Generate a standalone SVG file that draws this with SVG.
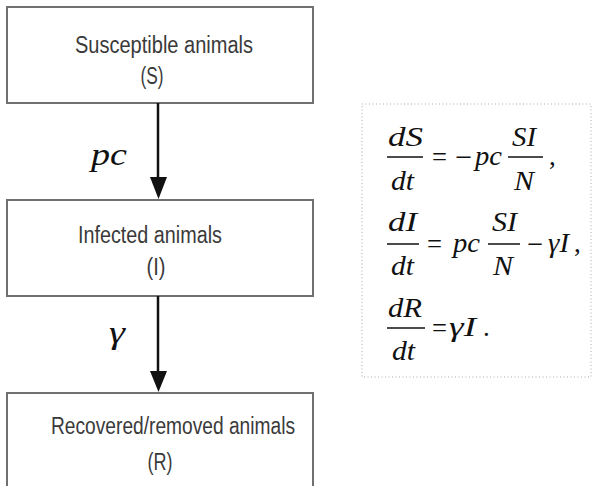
<svg xmlns="http://www.w3.org/2000/svg" width="593" height="486" viewBox="0 0 593 486">
<defs>
<style>
.box{fill:#fff;stroke:#707070;stroke-width:2}
.lbl{font-family:"Liberation Sans",Arial,sans-serif;font-size:23px;fill:#3a3a3a;text-anchor:middle}
.math{font-family:"Liberation Serif","Times New Roman",serif;font-style:italic;font-size:27px;fill:#111}
.op{font-family:"Liberation Serif","Times New Roman",serif;font-size:27px;fill:#111}
.bar{stroke:#111;stroke-width:1.5}
.conn{stroke:#111;stroke-width:2.5;fill:none}
.rate{font-family:"Liberation Serif","Times New Roman",serif;font-style:italic;font-size:32px;fill:#111}
</style>
</defs>
<rect width="593" height="486" fill="#fff"/>
<g id="node-S">
<rect class="box" x="7" y="7" width="306" height="96"/>
<text class="lbl" x="164" y="53" textLength="178" lengthAdjust="spacingAndGlyphs">Susceptible animals</text>
<text class="lbl" x="152" y="84" textLength="23" lengthAdjust="spacingAndGlyphs">(S)</text>
</g>
<g id="node-I">
<rect class="box" x="7" y="200" width="306" height="96"/>
<text class="lbl" x="150" y="243" textLength="144" lengthAdjust="spacingAndGlyphs">Infected animals</text>
<text class="lbl" x="156" y="275" textLength="19" lengthAdjust="spacingAndGlyphs">(I)</text>
</g>
<g id="node-R">
<rect class="box" x="7" y="393" width="306" height="110"/>
<text class="lbl" x="173" y="434" textLength="244" lengthAdjust="spacingAndGlyphs">Recovered/removed animals</text>
<text class="lbl" x="160" y="470" textLength="25" lengthAdjust="spacingAndGlyphs">(R)</text>
</g>
<g id="connectors">
<line class="conn" x1="158" y1="103" x2="158" y2="180"/>
<path d="M150,177 L167,177 L158.5,199 Z" fill="#111"/>
<line class="conn" x1="158" y1="296" x2="158" y2="374"/>
<path d="M150,371 L167,371 L158.5,392 Z" fill="#111"/>
<text class="rate" x="91" y="165" textLength="36" lengthAdjust="spacingAndGlyphs">pc</text>
<text class="rate" x="109" y="343" textLength="16" lengthAdjust="spacingAndGlyphs">γ</text>
</g>
<g id="equations">
<rect x="362" y="104" width="229" height="273" fill="none" stroke="#aaa" stroke-width="1" stroke-dasharray="1 2.5"/>
<text class="math" x="388" y="146" textLength="35" lengthAdjust="spacingAndGlyphs">dS</text>
<line class="bar" x1="387" y1="157" x2="423" y2="157"/>
<text class="math" x="391" y="190" textLength="23" lengthAdjust="spacingAndGlyphs">dt</text>
<text class="op" x="432" y="166" textLength="15" lengthAdjust="spacingAndGlyphs">=</text>
<text class="op" x="455" y="166" textLength="17" lengthAdjust="spacingAndGlyphs">−</text>
<text class="math" x="475" y="165" textLength="27" lengthAdjust="spacingAndGlyphs">pc</text>
<text class="math" x="512" y="146" textLength="24" lengthAdjust="spacingAndGlyphs">SI</text>
<line class="bar" x1="508" y1="157" x2="543" y2="157"/>
<text class="math" x="514" y="190" textLength="20" lengthAdjust="spacingAndGlyphs">N</text>
<text class="op" x="549" y="165">,</text>

<text class="math" x="388" y="231" textLength="29" lengthAdjust="spacingAndGlyphs">dI</text>
<line class="bar" x1="387" y1="244" x2="419" y2="244"/>
<text class="math" x="391" y="275" textLength="23" lengthAdjust="spacingAndGlyphs">dt</text>
<text class="op" x="427" y="253" textLength="15" lengthAdjust="spacingAndGlyphs">=</text>
<text class="math" x="453" y="252" textLength="27" lengthAdjust="spacingAndGlyphs">pc</text>
<text class="math" x="492" y="231" textLength="25" lengthAdjust="spacingAndGlyphs">SI</text>
<line class="bar" x1="488" y1="244" x2="520" y2="244"/>
<text class="math" x="493" y="275" textLength="20" lengthAdjust="spacingAndGlyphs">N</text>
<text class="op" x="527" y="253" textLength="16" lengthAdjust="spacingAndGlyphs">−</text>
<text class="math" x="548" y="252" textLength="21" lengthAdjust="spacingAndGlyphs">γI</text>
<text class="op" x="574" y="252">,</text>

<text class="math" x="388" y="317" textLength="34" lengthAdjust="spacingAndGlyphs">dR</text>
<line class="bar" x1="387" y1="328" x2="425" y2="328"/>
<text class="math" x="392" y="360" textLength="23" lengthAdjust="spacingAndGlyphs">dt</text>
<text class="op" x="432" y="337" textLength="15" lengthAdjust="spacingAndGlyphs">=</text>
<text class="math" x="449" y="336" textLength="27" lengthAdjust="spacingAndGlyphs">γI</text>
<text class="op" x="483" y="336">.</text>
</g>
</svg>
